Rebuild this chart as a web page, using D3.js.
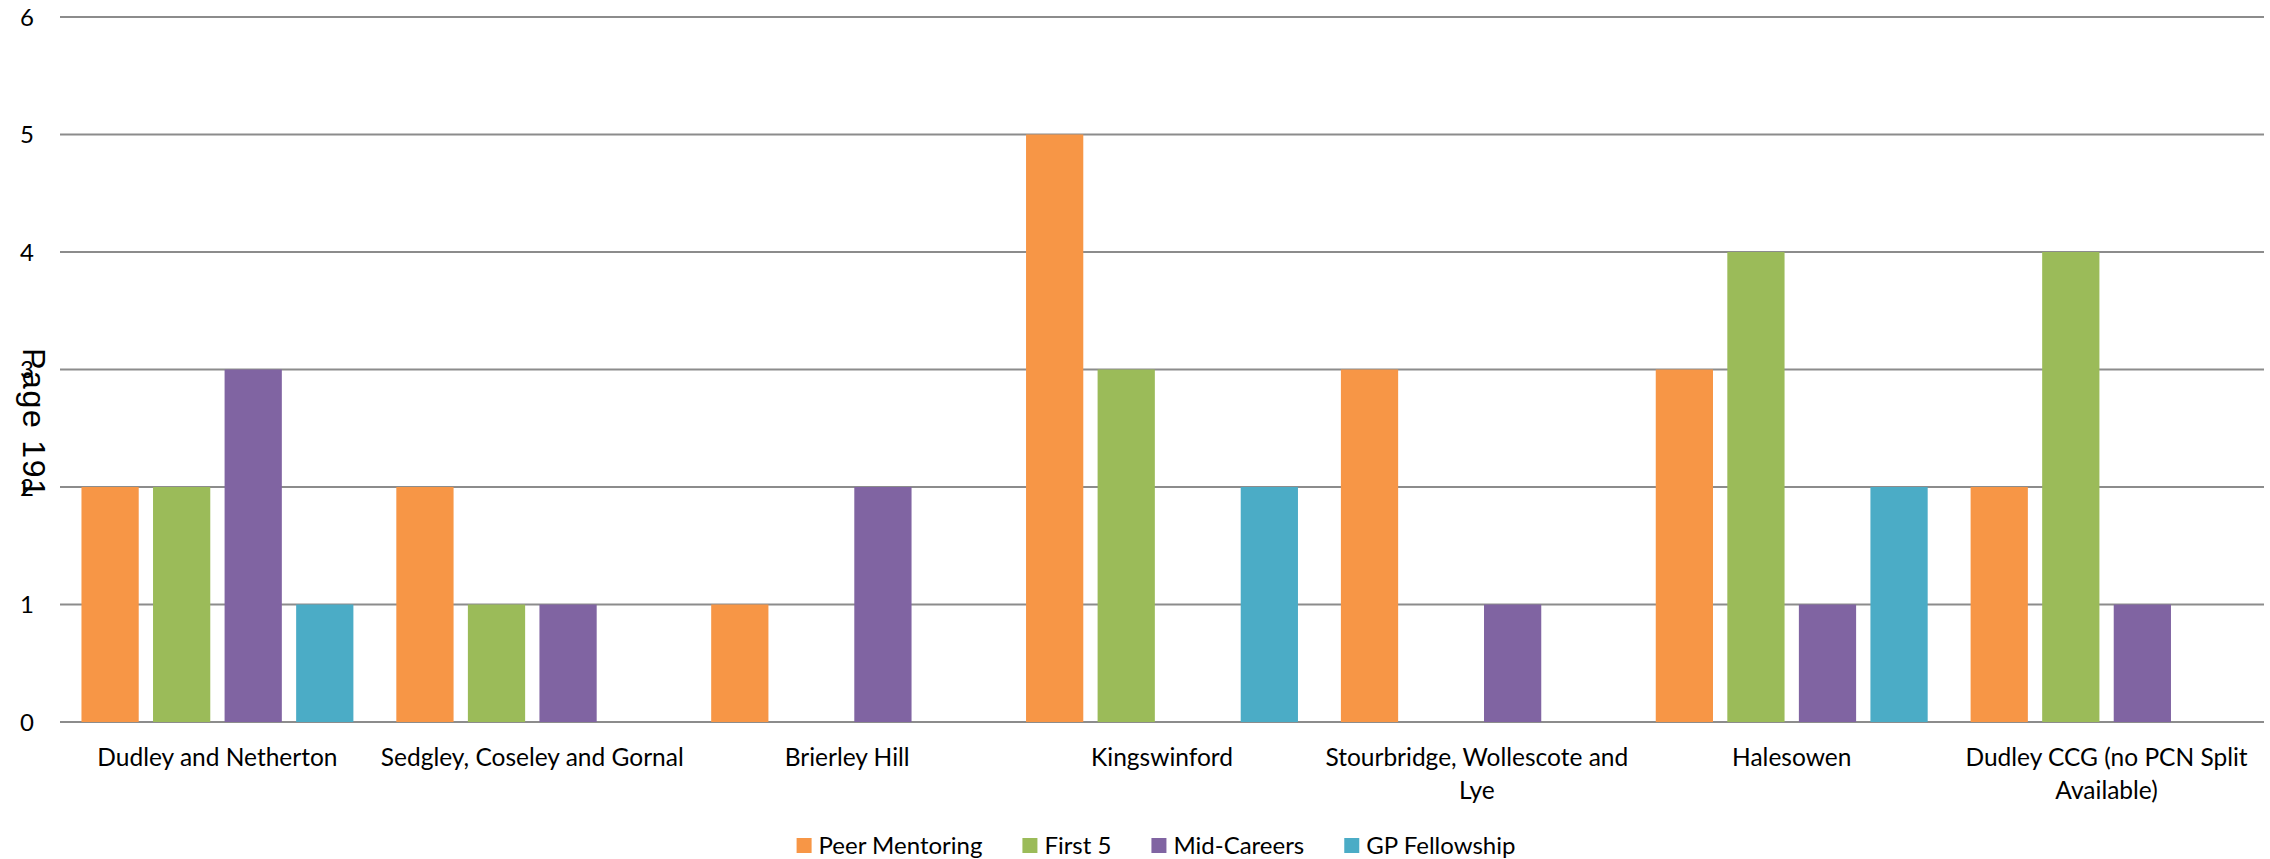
<!DOCTYPE html>
<html>
<head>
<meta charset="utf-8">
<script src="https://cdn.jsdelivr.net/npm/d3@7"></script>
<style>
  body { margin: 0; background: #fff; }
  text { font-family: Lato, "Open Sans", sans-serif; fill: #000; }
</style>
</head>
<body>
<script>
const categories = [
  'Dudley and Netherton',
  'Sedgley, Coseley and Gornal',
  'Brierley Hill',
  'Kingswinford',
  'Stourbridge, Wollescote and Lye',
  'Halesowen',
  'Dudley CCG (no PCN Split Available)'
]
const seriesNames = ['Peer Mentoring', 'First 5', 'Mid-Careers', 'GP Fellowship']
const peerMentoring = [2, 2, 1, 5, 3, 3, 2]
const first5 = [2, 1, 0, 3, 0, 4, 4]
const midCareers = [3, 1, 2, 0, 1, 1, 1]
const gpFellowship = [1, 0, 0, 2, 0, 2, 0]
const yTicks = [0, 1, 2, 3, 4, 5, 6]
const colours = ['#F79646', '#9BBB59', '#8064A2', '#4BACC6']

const series = [peerMentoring, first5, midCareers, gpFellowship]

const width = 2270
const height = 859
const plotLeft = 60
const plotRight = 2264
const plotTop = 17
const plotBottom = 722

const svg = d3.select(document.body).append('svg')
  .attr('width', width)
  .attr('height', height)
  .attr('xmlns', 'http://www.w3.org/2000/svg')

const x0 = d3.scaleBand().domain(categories).range([plotLeft, plotRight]).paddingInner(0).paddingOuter(0)
const x1 = d3.scaleBand().domain(seriesNames).range([0, x0.bandwidth()]).paddingInner(0.2).paddingOuter(0.3)
const y = d3.scaleLinear().domain([0, 6]).range([plotBottom, plotTop])

// gridlines
svg.append('g').selectAll('line').data(yTicks).join('line')
  .attr('x1', plotLeft).attr('x2', plotRight)
  .attr('y1', d => y(d)).attr('y2', d => y(d))
  .attr('stroke', '#8c8c8c').attr('stroke-width', 2)

// y tick labels
svg.append('g').selectAll('text').data(yTicks).join('text')
  .attr('x', 34).attr('y', d => y(d))
  .attr('dy', '0.36em')
  .attr('text-anchor', 'end')
  .attr('font-size', 24)
  .text(d => d)

// bars
const groups = svg.append('g').selectAll('g').data(categories).join('g')
  .attr('transform', d => `translate(${x0(d)},0)`)

groups.selectAll('rect')
  .data((c, i) => seriesNames.map((s, j) => ({ s, v: series[j][i], col: colours[j] })))
  .join('rect')
  .attr('x', d => x1(d.s))
  .attr('width', x1.bandwidth())
  .attr('y', d => y(d.v))
  .attr('height', d => y(0) - y(d.v))
  .attr('fill', d => d.col)

// x labels, wrapped to the band width
const xLabels = svg.append('g').selectAll('text').data(categories).join('text')
  .attr('x', d => x0(d) + x0.bandwidth() / 2)
  .attr('y', 766)
  .attr('text-anchor', 'middle')
  .attr('font-size', 24.5)

xLabels.each(function (d) {
  const t = d3.select(this)
  const words = d.split(' ')
  const maxW = x0.bandwidth() - 4
  let line = []
  let tspan = t.append('tspan').attr('x', t.attr('x')).attr('dy', 0)
  for (const w of words) {
    line.push(w)
    tspan.text(line.join(' '))
    if (tspan.node().getComputedTextLength() > maxW && line.length > 1) {
      line.pop()
      tspan.text(line.join(' '))
      line = [w]
      tspan = t.append('tspan').attr('x', t.attr('x')).attr('dy', 33).text(w)
    }
  }
})

// legend
const legend = svg.append('g')
let lx = 0
seriesNames.forEach((name, i) => {
  const item = legend.append('g').attr('transform', `translate(${lx},0)`)
  item.append('rect')
    .attr('x', 0).attr('y', 838)
    .attr('width', 15).attr('height', 15)
    .attr('fill', colours[i])
  const txt = item.append('text')
    .attr('x', 22).attr('y', 854)
    .attr('font-size', 24)
    .text(name)
  lx += 22 + txt.node().getComputedTextLength() + 40
})
const legendW = lx - 40
legend.attr('transform', `translate(${1156 - legendW / 2},0)`)

// page stamp from the source document
svg.append('text')
  .attr('transform', 'translate(23,348) rotate(90)')
  .attr('font-size', 32)
  .attr('textLength', 149)
  .attr('lengthAdjust', 'spacing')
  .style('font-family', '"Liberation Sans", Arial, sans-serif')
  .text('Page 191')
</script>
</body>
</html>
